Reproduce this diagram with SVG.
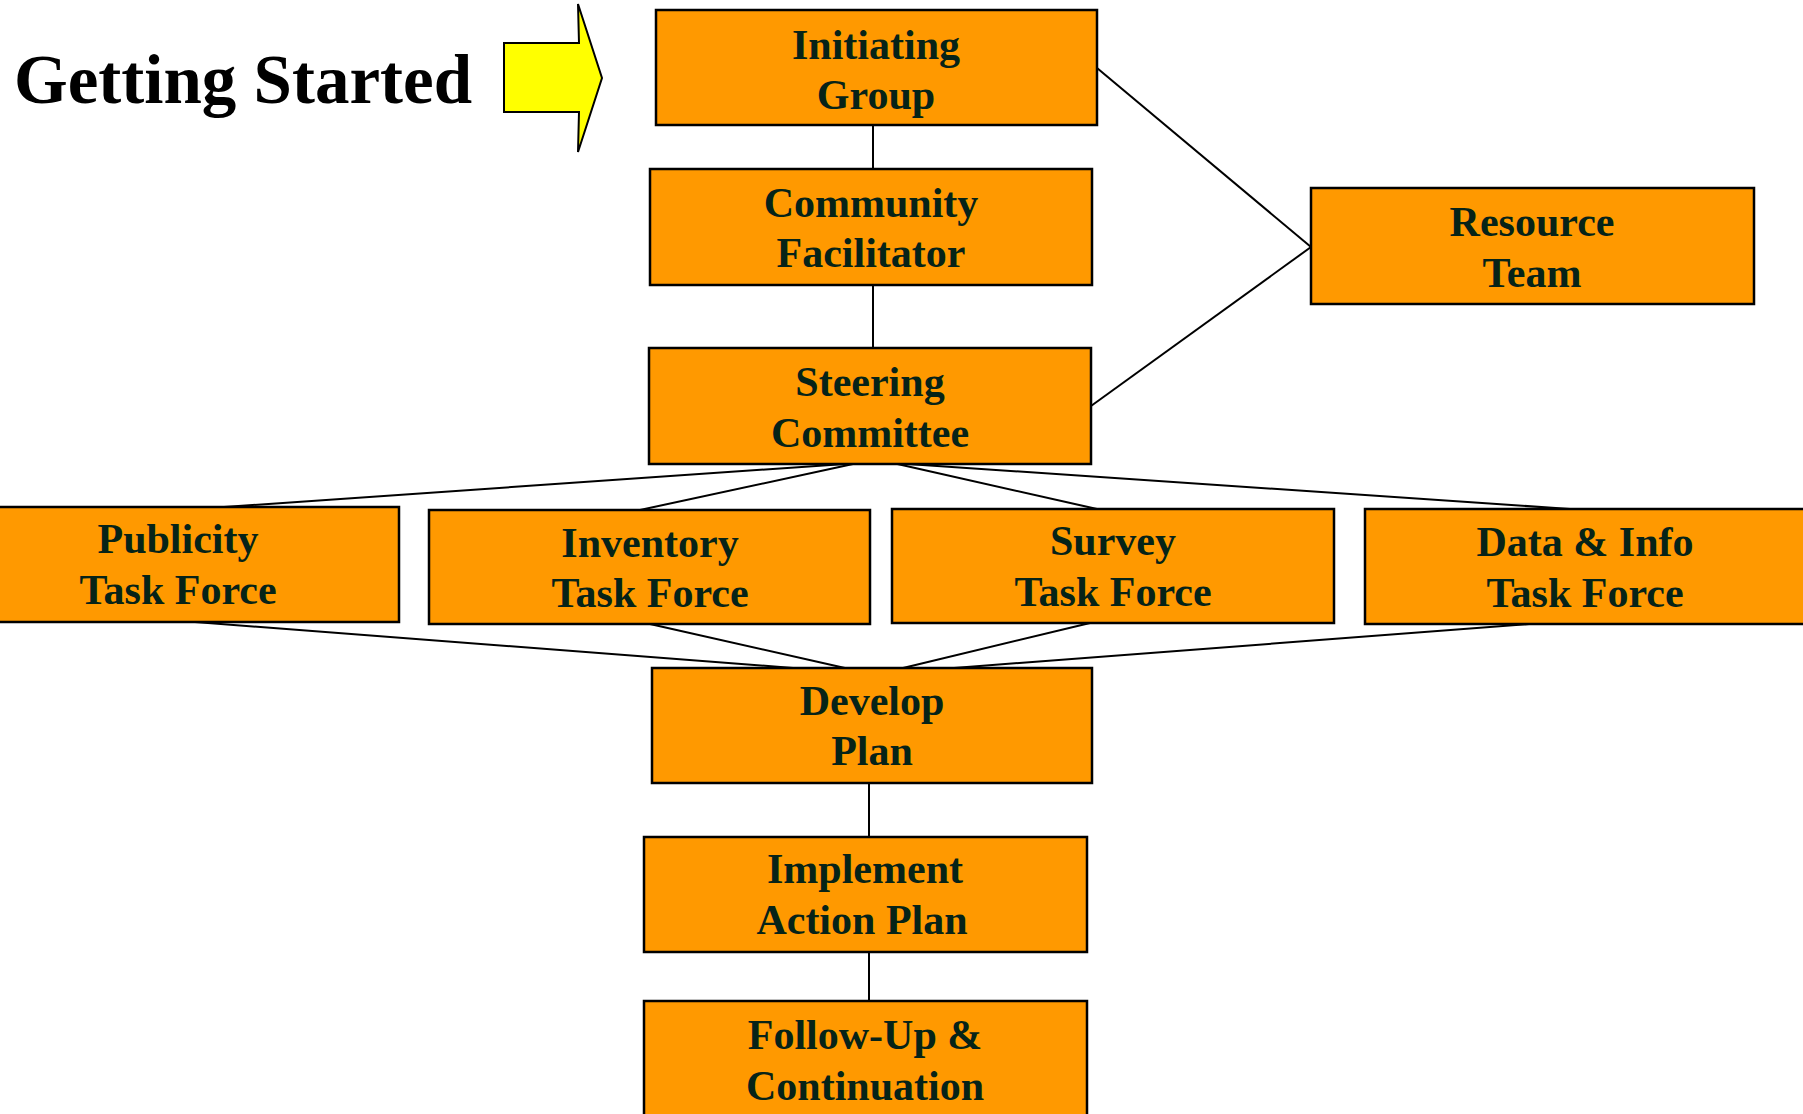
<svg xmlns="http://www.w3.org/2000/svg" width="1803" height="1114" viewBox="0 0 1803 1114">
<style>
.box{fill:#FF9900;stroke:#000;stroke-width:2.5}
.t{font-family:"Liberation Serif","Times New Roman",serif;font-weight:bold;font-size:42px;fill:#062318;text-anchor:middle}
.c{stroke:#000;stroke-width:2;fill:none}
</style>
<rect width="1803" height="1114" fill="#fff"/>
<g id="title">
<text x="14" y="103" style="font-family:'Liberation Serif','Times New Roman',serif;font-weight:bold;font-size:69px;fill:#000">Getting Started</text>
<polygon points="504,43 579,43 578,4 602,78 578,152 579,112 504,112" fill="#FFFF00" stroke="#000" stroke-width="2"/>
</g>
<g id="connectors">
<line class="c" x1="873" y1="125" x2="873" y2="169"/>
<line class="c" x1="873" y1="285" x2="873" y2="348"/>
<line class="c" x1="1097" y1="68" x2="1311" y2="247"/>
<line class="c" x1="1091" y1="406" x2="1311" y2="247"/>
<line class="c" x1="845" y1="464" x2="224" y2="507"/>
<line class="c" x1="853" y1="464" x2="640" y2="510"/>
<line class="c" x1="893" y1="463" x2="1097" y2="509"/>
<line class="c" x1="893" y1="463" x2="1570" y2="509"/>
<line class="c" x1="195" y1="622" x2="793" y2="668"/>
<line class="c" x1="650" y1="624" x2="845" y2="668"/>
<line class="c" x1="1090" y1="623" x2="903" y2="668"/>
<line class="c" x1="1529" y1="624" x2="954" y2="668"/>
<line class="c" x1="869" y1="783" x2="869" y2="837"/>
<line class="c" x1="869" y1="952" x2="869" y2="1001"/>
</g>
<g id="initiating">
<rect class="box" x="656" y="10" width="441" height="115"/>
<text class="t" x="876" y="59">Initiating</text>
<text class="t" x="876" y="109">Group</text>
</g>
<g id="community">
<rect class="box" x="650" y="169" width="442" height="116"/>
<text class="t" x="871" y="217">Community</text>
<text class="t" x="871" y="267">Facilitator</text>
</g>
<g id="steering">
<rect class="box" x="649" y="348" width="442" height="116"/>
<text class="t" x="870" y="396">Steering</text>
<text class="t" x="870" y="447">Committee</text>
</g>
<g id="resource">
<rect class="box" x="1311" y="188" width="443" height="116"/>
<text class="t" x="1532" y="236">Resource</text>
<text class="t" x="1532" y="287">Team</text>
</g>
<g id="publicity">
<rect class="box" x="-43" y="507" width="442" height="115"/>
<text class="t" x="178" y="553">Publicity</text>
<text class="t" x="178" y="604">Task Force</text>
</g>
<g id="inventory">
<rect class="box" x="429" y="510" width="441" height="114"/>
<text class="t" x="650" y="557">Inventory</text>
<text class="t" x="650" y="607">Task Force</text>
</g>
<g id="survey">
<rect class="box" x="892" y="509" width="442" height="114"/>
<text class="t" x="1113" y="555">Survey</text>
<text class="t" x="1113" y="606">Task Force</text>
</g>
<g id="datainfo">
<rect class="box" x="1365" y="509" width="441" height="115"/>
<text class="t" x="1585" y="556">Data &amp; Info</text>
<text class="t" x="1585" y="607">Task Force</text>
</g>
<g id="develop">
<rect class="box" x="652" y="668" width="440" height="115"/>
<text class="t" x="872" y="715">Develop</text>
<text class="t" x="872" y="765">Plan</text>
</g>
<g id="implement">
<rect class="box" x="644" y="837" width="443" height="115"/>
<text class="t" x="865" y="883">Implement</text>
<text class="t" x="862" y="934">Action Plan</text>
</g>
<g id="followup">
<rect class="box" x="644" y="1001" width="443" height="120"/>
<text class="t" x="865" y="1049">Follow-Up &amp;</text>
<text class="t" x="865" y="1100">Continuation</text>
</g>
</svg>
